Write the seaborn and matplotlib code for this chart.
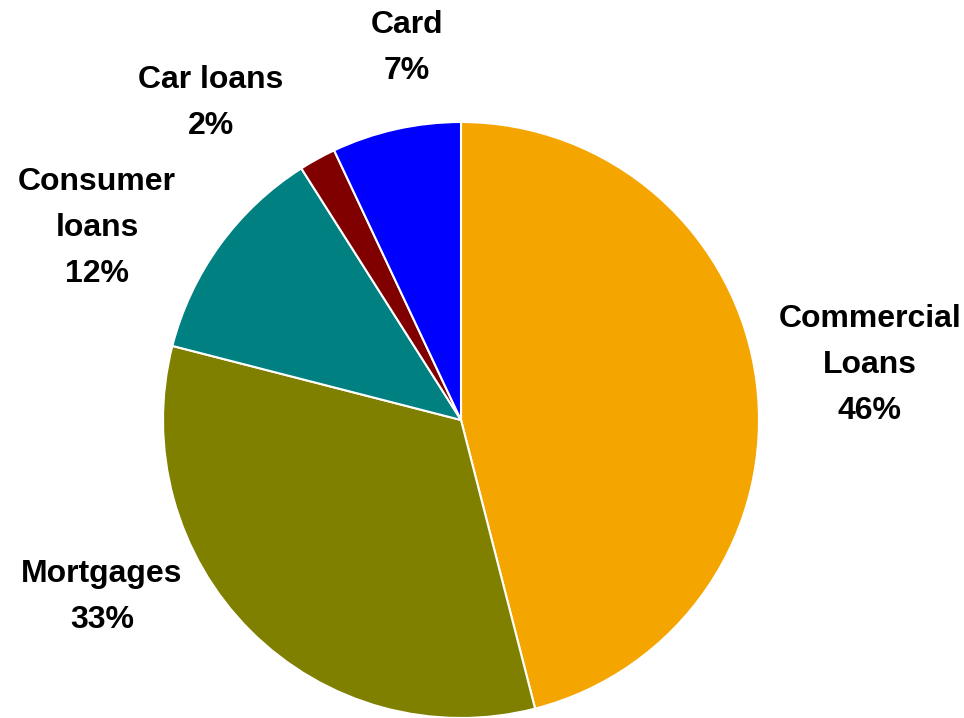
import matplotlib.pyplot as plt
import seaborn as sns

categories = ['Commercial\nLoans', 'Mortgages', 'Consumer\nloans', 'Car loans', 'Card']
shares = [46, 33, 12, 2, 7]
colors = ['#F5A500', '#808000', '#008080', '#800000', '#0000FF']

# label block centres, in pixels of the 964x718 picture
label_px = [(870, 365), (102, 597), (97, 228), (211, 103), (407, 48)]

sns.set_theme(style='white')
plt.rcParams['font.family'] = ['Liberation Sans', 'DejaVu Sans']

fig = plt.figure(figsize=(9.64, 7.18), dpi=100)
ax = fig.add_axes([0, 0, 1, 1])

cx, cy, r = 461, 420, 298
ax.pie(shares, colors=colors, startangle=90, counterclock=False,
       radius=1, center=(0, 0),
       wedgeprops=dict(edgecolor='white', linewidth=1.5))

for name, val, (px, py) in zip(categories, shares, label_px):
    ax.text((px - cx) / r, (cy - py) / r, f'{name}\n{val}%',
            ha='center', va='center', fontsize=23, fontweight='bold',
            linespacing=1.7, color='black')

ax.set_xlim(-cx / r, (964 - cx) / r)
ax.set_ylim(-(718 - cy) / r, cy / r)
ax.set_aspect('auto')
ax.axis('off')

fig.savefig('out.png', dpi=100)
